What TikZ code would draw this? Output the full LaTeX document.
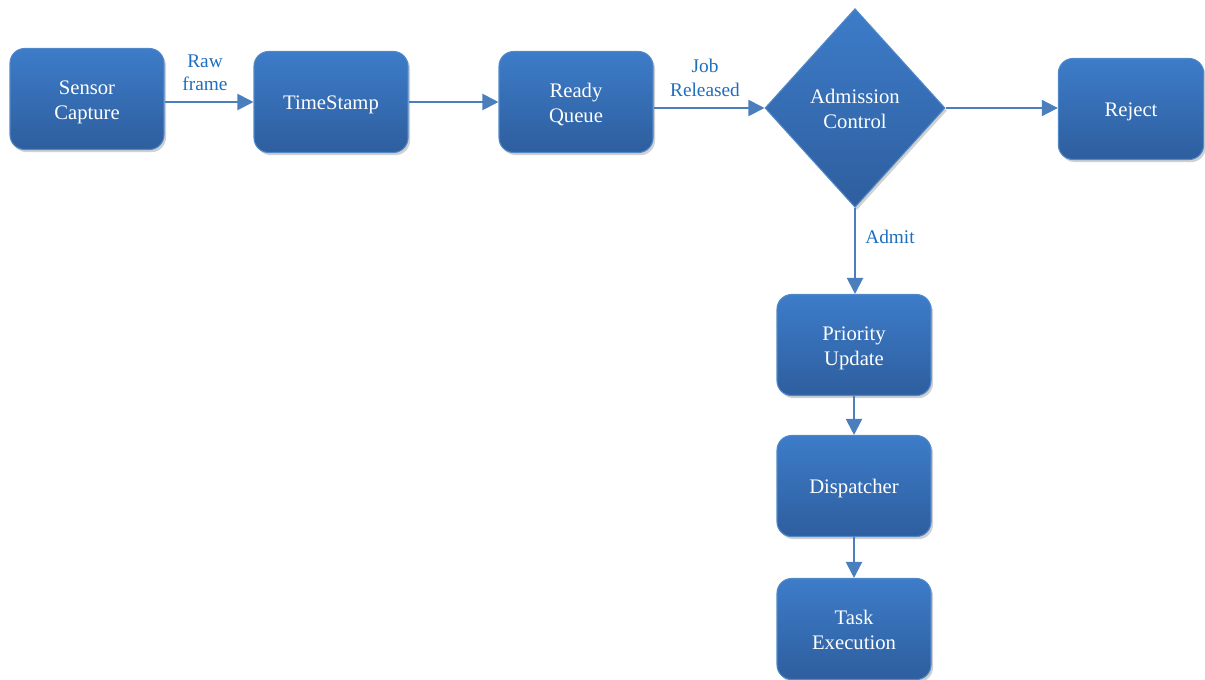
\documentclass[tikz,border=0pt]{standalone}
\usepackage{fontspec}
\setmainfont{Liberation Serif}
\newfontfamily\tnr{Liberation Serif}
\usetikzlibrary{shapes.geometric,arrows.meta,shadows}
\definecolor{boxtop}{HTML}{3D7CC9}
\definecolor{boxbot}{HTML}{2E5E9E}
\definecolor{boxedge}{HTML}{5088C8}
\definecolor{arrowc}{HTML}{4A7EBD}
\definecolor{labelc}{HTML}{1E6EBE}
\newcommand{\topst}{\rule{0pt}{17.5pt}}
\begin{document}
\begin{tikzpicture}[x=0.75pt,y=-0.75pt,
  box/.style={rectangle, rounded corners=11pt, minimum width=115.5pt, minimum height=75.75pt,
    inner sep=2pt, top color=boxtop, bottom color=boxbot, draw=boxedge, line width=0.8pt,
    text=white, font=\tnr\fontsize{15.5}{18.5}\selectfont, align=center,
    drop shadow={shadow xshift=1.5pt, shadow yshift=-2pt, opacity=0.3, fill=black!60}},
  dec/.style={diamond, minimum width=135pt, minimum height=149pt, inner sep=0pt,
    top color=boxtop, bottom color=boxbot, draw=boxedge, line width=0.8pt,
    text=white, font=\tnr\fontsize{15.5}{18.5}\selectfont, align=center,
    drop shadow={shadow xshift=1.5pt, shadow yshift=-2pt, opacity=0.3, fill=black!60}},
  flow/.style={draw=arrowc, line width=1.5pt, -{Triangle[length=12pt,width=12pt]}},
  lab/.style={text=labelc, font=\tnr\fontsize{14.5}{17.5}\selectfont, align=center}]
\useasboundingbox (0,0) rectangle (1205,679);
\node[box] (sc) at (87,99) {\topst Sensor\\Capture\strut};
\node[box] (ts) at (331,102) {\topst TimeStamp\strut};
\node[box] (rq) at (576,102) {\topst Ready\\Queue\strut};
\node[dec] (ac) at (855,108) {\topst Admission\\Control\strut};
\node[box, minimum width=109pt] (rj) at (1131,109) {\topst Reject\strut};
\node[box] (pu) at (854,345) {\topst Priority\\Update\strut};
\node[box] (dp) at (854,486) {\topst Dispatcher\strut};
\node[box] (te) at (854,629) {\topst Task\\Execution\strut};
\draw[flow] (sc.east |- ts.west) -- (ts.west);
\draw[flow] (ts) -- (rq);
\draw[flow] (rq.east |- ac.west) -- (ac.west);
\draw[flow] (ac.east) -- (rj.west |- ac.east);
\draw[flow] (ac.south) -- (pu.north -| ac.south);
\draw[flow] (pu) -- (dp);
\draw[flow] (dp) -- (te);
\node[lab] (l1) at (205,73) {Raw\\frame};
\node[lab] (l2) at (705,78) {Job\\Released};
\node[lab] (l3) at (890,237) {Admit};
\end{tikzpicture}
\end{document}
